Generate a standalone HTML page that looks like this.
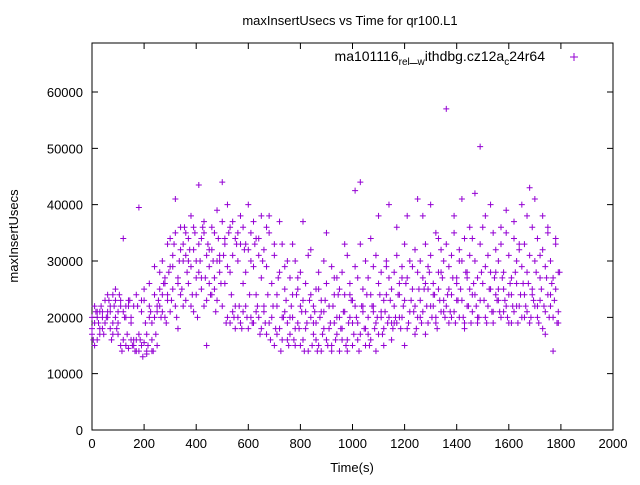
<!DOCTYPE html>
<html><head><meta charset="utf-8"><style>
body{margin:0;background:#fff}
svg{font-family:"Liberation Sans",sans-serif;font-size:13px}
</style></head><body>
<svg id="chart" width="640" height="480">
<rect width="640" height="480" fill="#fff"/>
<text x="350" y="25" text-anchor="middle">maxInsertUsecs vs Time for qr100.L1</text>
<text x="18" y="236" text-anchor="middle" transform="rotate(-90 18 236)">maxInsertUsecs</text>
<text x="352" y="472" text-anchor="middle">Time(s)</text>
<g id="axes"></g>
<g id="points"></g>
<g>
<text x="545" y="61" text-anchor="end" font-size="14">ma101116<tspan font-size="10" dy="4">rel</tspan><tspan dy="-4">_</tspan><tspan font-size="10" dy="4">w</tspan><tspan dy="-4">ithdbg.cz12a</tspan><tspan font-size="10" dy="4">c</tspan><tspan dy="-4">24r64</tspan></text>
<path d="M570 57h8M574 53v8" stroke="#9400d3" stroke-width="1"/>
</g>
</svg>
<script>
const xTicks=[0,200,400,600,800,1000,1200,1400,1600,1800,2000];
const yTicks=[0,10000,20000,30000,40000,50000,60000];
const times=[0,10,20,30,40,50,60,70,80,90,100,110,120,130,140,150,160,170,180,190,200,210,220,230,240,250,260,270,280,290,300,310,320,330,340,350,360,370,380,390,400,410,420,430,440,450,460,470,480,490,500,510,520,530,540,550,560,570,580,590,600,610,620,630,640,650,660,670,680,690,700,710,720,730,740,750,760,770,780,790,800,810,820,830,840,850,860,870,880,890,900,910,920,930,940,950,960,970,980,990,1000,1010,1020,1030,1040,1050,1060,1070,1080,1090,1100,1110,1120,1130,1140,1150,1160,1170,1180,1190,1200,1210,1220,1230,1240,1250,1260,1270,1280,1290,1300,1310,1320,1330,1340,1350,1360,1370,1380,1390,1400,1410,1420,1430,1440,1450,1460,1470,1480,1490,1500,1510,1520,1530,1540,1550,1560,1570,1580,1590,1600,1610,1620,1630,1640,1650,1660,1670,1680,1690,1700,1710,1720,1730,1740,1750,1760,1770,1780,1790];
const seriesA=[17,19,20,18,21,19,20,22,19,23,21,15,16,22,14.5,20,15,16,14,21,15.5,13.5,22,16,20,15,22,24,20,23,21,25,22,18,24,22,23,26,22,21,24,28,25,22,23,26,24,27,23,30,22,26,20,19,21,18,20,19,21,22,18,20,19,21,20,18,21,17,19,20,15,22,18,16,21,19,17,20,15,19,22,16,18,14,20,17,19,15,21,18,16,22,14,19,17,20,18,21,16,20,15,22,19,17,21,18,20,16,22,19,17,21,18,24,20,19,22,19,24,20,23,18,21,25,22,20,23,21,26,19,22,24,20,25,21,23,22,19,24,21,26,20,23,18,22,25,21,24,19,23,26,20,22,25,21,24,23,20,25,22,19,24,21,26,22,20,24,21,19,25,22,20,23,18,21,24,22,20,25,19];
const seriesB=[20,22,16,21,18,23,24,21,17,25,19,22,34,20,23,16,22,24,17,23,25,14,26,19,29,21,28,30,26,33,29,31,35,27,32,30,31,34,29,36,30,33,27,35,31,29,32,35,30,28,37,33,29,36,31,34,30,33,36,28,32,35,29,34,31,27,32,29,35,26,31,24,28,33,25,30,27,24,30,25,28,23,26,31,24,22,25,28,23,30,26,22,29,24,27,25,28,24,31,26,23,29,27,33,25,30,27,24,29,31,26,28,23,30,27,25,28,31,26,29,33,27,30,25,32,28,30,27,33,29,31,26,35,28,32,30,33,29,31,35,27,32,30,34,28,31,34,30,27,33,36,29,31,28,35,32,30,33,28,35,31,27,34,30,32,29,33,28,31,36,30,34,27,32,29,35,30,27,33,28];
const seriesC=[18,15,21,17,20,19,21,18,24,20,17,23,21,15,22,19,16,14,39.5,15,23,17,20,14,24,22,25,21,27,24,34,29,41,26,36,33,35,30,38,32,27,43.5,34,37,15,32,36,25,39,31,44,34,40,28,37,22,35,38,26,33,40,30,37,24,34,38,22,36,38,20,33,17,37,20,29,16,20,33,18,27,15,37,21,14,32,19,16,25,14,21,35,18,15,27,20,14,16,33,14,24,19,42.5,16,44,22,15,17,34,21,14,38,20,15,29,40,16,19,36,20,27,15,38,21,29,17,41,20,38,17,25,40,22,19,34,28,21,57,25,20,38,23,30,41,19,27,36,24,42,20,50.3,26,38,22,40,19,28,25,36,21,39,24,19,37,22,33,40,20,38,43,24,41,22,31,38,17,36,24,14,34,21];
const seriesD=[16,21,19,22,17,20,23,16,22,18,24,14,20,17,23,15,14,22,16,13,19,15,21,14,17,23,20,26,19,28,23,33,20,30,25,36,28,32,24,35,20,30,36,27,33,24,30,21,34,26,31,19,35,24,20,33,22,18,32,20,24,19,33,22,17,30,19,24,16,22,18,27,14,20,23,15,22,16,24,18,21,14,19,23,15,21,14,20,17,23,15,19,22,16,24,18,21,15,19,23,17,20,14,22,18,24,15,22,18,20,24,17,21,19,23,18,20,24,18,22,26,19,23,21,18,25,19,25,22,28,20,24,18,23,27,20,24,21,27,19,23,25,20,28,22,19,26,22,20,28,23,19,25,21,27,23,21,27,23,20,26,22,28,19,24,26,22,26,20,23,28,19,25,22,27,20,26,23,19,28];
const X0=92,X1=613,Y0=430,Y1=43;
const xs=v=>X0+v/2000*(X1-X0);
const ys=v=>Y0-v/60000*338;
const NS="http://www.w3.org/2000/svg";
const axes=document.getElementById('axes'),pts=document.getElementById('points');
function mk(tag,attrs,parent){const e=document.createElementNS(NS,tag);for(const k in attrs)e.setAttribute(k,attrs[k]);parent.appendChild(e);return e;}
const box=mk('rect',{x:X0,y:Y1,width:X1-X0,height:Y0-Y1,fill:'none',stroke:'#000','stroke-width':1},axes);


xTicks.forEach(t=>{const x=xs(t);
 const tk=mk('path',{d:`M${x} ${Y0}v-6M${x} ${Y1}v6`,stroke:'#000'},axes);
 
 
 const l=mk('text',{x:x,y:Y0+18,'text-anchor':'middle'},axes);l.textContent=t;
 
 });
yTicks.forEach(t=>{const y=ys(t);
 const tk=mk('path',{d:`M${X0} ${y}h6M${X1} ${y}h-6`,stroke:'#000'},axes);
 
 
 const l=mk('text',{x:X0-9,y:y+5,'text-anchor':'end'},axes);l.textContent=t;
 
 });
let d='';
[seriesA,seriesB,seriesC].forEach(s=>s.forEach((v,i)=>{const x=xs(times[i]),y=ys(v*1000);d+=`M${x-3} ${y}h6M${x} ${y-3}v6`;}));
seriesD.forEach((v,i)=>{const x=xs(times[i]+5),y=ys(v*1000);d+=`M${x-3} ${y}h6M${x} ${y-3}v6`;});
const p=mk('path',{d:d,stroke:'#9400d3','stroke-width':1,fill:'none'},pts);


</script>
</body></html>
